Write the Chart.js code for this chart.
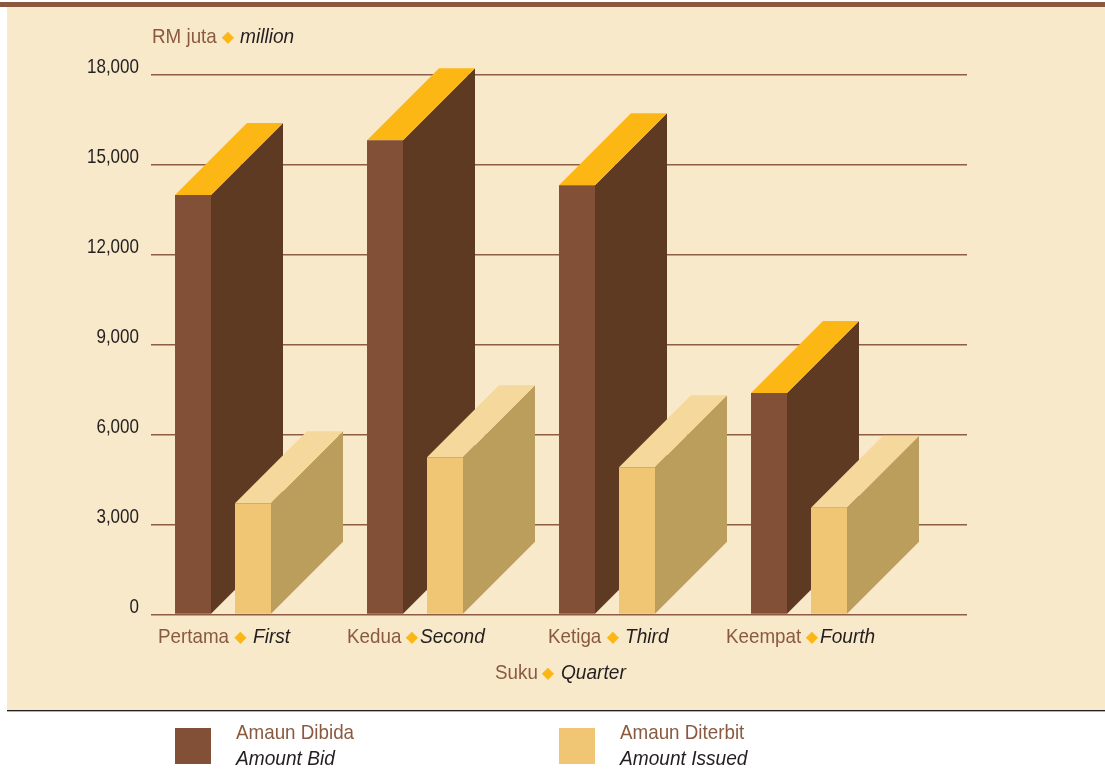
<!DOCTYPE html>
<html><head><meta charset="utf-8"><title>Amaun Dibida / Amaun Diterbit</title>
<style>html,body{margin:0;padding:0;background:#fff}canvas{display:block}</style>
<script src="https://cdn.jsdelivr.net/npm/chart.js@4/dist/chart.umd.min.js"></script>
</head><body><canvas id="c" width="1105" height="779"></canvas>
<script>
const categoriesMalay = ['Pertama','Kedua','Ketiga','Keempat'];
const categoriesEnglish = ['First','Second','Third','Fourth'];
const amountBid = [13980,15810,14310,7380];
const amountIssued = [3710,5245,4910,3560];
const yTickValues = [0,3000,6000,9000,12000,15000,18000];

const FONT = '"Liberation Sans",sans-serif';
const BROWN='#8a5a40', INK='#231f20', GOLD='#fdb714';
const DEPTH = 72;
// offsets of [malay, diamond centre, english] from each category pixel
const xLabelOffsets = [[-65,17.5,30],[-68,-3,5],[-59,6,18],[-73,13,21]];
const faces = {
  bid:{front:'#815036',side:'#5f3a23',top:'#fdb714'},
  issued:{front:'#f0c674',side:'#bb9e5c',top:'#f4d89c'}
};

function seg(ctx,text,x,y,opts){
  ctx.save();
  ctx.translate(x,y);
  ctx.scale(opts.squeeze||1,1);
  ctx.font=(opts.italic?'italic ':'')+(opts.size||21)+'px '+(opts.family||FONT);
  ctx.fillStyle=opts.color; ctx.textAlign=opts.align||'left'; ctx.textBaseline='alphabetic';
  ctx.fillText(text,0,0);
  ctx.restore();
}
const roman=()=>({color:BROWN,squeeze:0.895});
const italic=()=>({color:INK,italic:true,squeeze:0.91});
function diamond(ctx,x,y){ seg(ctx,'◆',x,y,{color:GOLD,size:16,align:'center',family:'"DejaVu Sans"'}); }
function triple(ctx,a,c,xa,xd,xc,y){
  seg(ctx,a,xa,y,roman()); diamond(ctx,xd,y-1); seg(ctx,c,xc,y,italic());
}

const depthPlugin={id:'depth',
  afterLayout(chart){
    const s=chart.scales.y, orig=s.drawLabels;
    if(s._squeezed) return;
    s._squeezed=true;
    s.drawLabels=function(area){
      const c=this.ctx, edge=139;
      c.save(); c.translate(edge,0); c.scale(0.81,1); c.translate(-edge,0);
      orig.call(this,area);
      c.restore();
    };
  },
  // Draw back to front: first series (with its 3D faces), then the second over it.
  beforeDatasetsDraw(chart){
    const ctx=chart.ctx;
    chart.data.datasets.forEach((ds,i)=>{
      const f=ds.faces, meta=chart.getDatasetMeta(i);
      meta.data.forEach(b=>{
        const p=b.getProps(['x','y','base','width'],true);
        const l=p.x-p.width/2, r=p.x+p.width/2;
        ctx.save();
        ctx.fillStyle=f.side; ctx.beginPath();
        ctx.moveTo(r,p.y); ctx.lineTo(r+DEPTH,p.y-DEPTH); ctx.lineTo(r+DEPTH,p.base-DEPTH); ctx.lineTo(r,p.base); ctx.closePath(); ctx.fill();
        ctx.fillStyle=f.top; ctx.beginPath();
        ctx.moveTo(l,p.y); ctx.lineTo(l+DEPTH,p.y-DEPTH); ctx.lineTo(r+DEPTH,p.y-DEPTH); ctx.lineTo(r,p.y); ctx.closePath(); ctx.fill();
        ctx.restore();
      });
      meta.controller.draw();
    });
  },
  beforeDatasetDraw(){ return false; }
};
const framePlugin={id:'frame',
  beforeDraw(chart){
    const c=chart.ctx; c.save();
    c.fillStyle='#fff'; c.fillRect(0,0,1105,779);
    c.fillStyle='#f8e9cb'; c.fillRect(7,7,1098,703);
    c.fillStyle='#8a5a40'; c.fillRect(0,2,1105,5);
    c.fillStyle='#231f20'; c.fillRect(7,710,1098,1);
    c.fillStyle='#b5b3b1'; c.fillRect(7,711,1098,1);
    c.restore();
  },
  afterDraw(chart){
    const c=chart.ctx, x=chart.scales.x; c.save();
    triple(c,'RM juta','million',152,228,240,43);
    categoriesMalay.forEach((m,i)=>{
      const px=x.getPixelForValue(i), o=xLabelOffsets[i];
      triple(c,m,categoriesEnglish[i],px+o[0],px+o[1],px+o[2],643);
    });
    triple(c,'Suku','Quarter',495,548,561,679);
    c.fillStyle=faces.bid.front; c.fillRect(175,728,36,36);
    c.fillStyle=faces.issued.front; c.fillRect(559,728,36,36);
    seg(c,'Amaun Dibida',236,739,roman());
    seg(c,'Amount Bid',236,765,italic());
    seg(c,'Amaun Diterbit',620,739,roman());
    seg(c,'Amount Issued',620,765,italic());
    c.restore();
  }
};
new Chart(document.getElementById('c'),{
  type:'bar',
  data:{datasets:[
    {label:'Amaun Dibida / Amount Bid',data:amountBid.map((v,i)=>({x:i,y:v})),backgroundColor:faces.bid.front,faces:faces.bid,borderWidth:0},
    {label:'Amaun Diterbit / Amount Issued',data:amountIssued.map((v,i)=>({x:i,y:v})),backgroundColor:faces.issued.front,faces:faces.issued,borderWidth:0}
  ]},
  plugins:[framePlugin,depthPlugin],
  options:{
    responsive:false,animation:false,
    categoryPercentage:0.625,barPercentage:0.6,
    layout:{padding:{left:0,top:74.5,right:138,bottom:164.5}},
    plugins:{legend:{display:false},tooltip:{enabled:false},title:{display:false}},
    scales:{
      x:{type:'linear',offset:false,min:-0.375,max:3.875,
        afterBuildTicks(s){s.ticks=categoriesMalay.map((_,i)=>({value:i}));},
        afterFit(s){s.height=0;},
        grid:{display:false},border:{display:false},ticks:{display:false}},
      y:{min:0,max:18000,
        afterBuildTicks(s){s.ticks=yTickValues.map(v=>({value:v}));},
        afterFit(s){s.width=151;},
        grid:{color:'#8f5d43',lineWidth:1.4,drawTicks:false},border:{display:false},
        ticks:{color:INK,padding:12,labelOffset:-7,font:{family:FONT,size:21},
          callback:v=>v.toLocaleString('en-US')}}
    }
  }
});
</script></body></html>
